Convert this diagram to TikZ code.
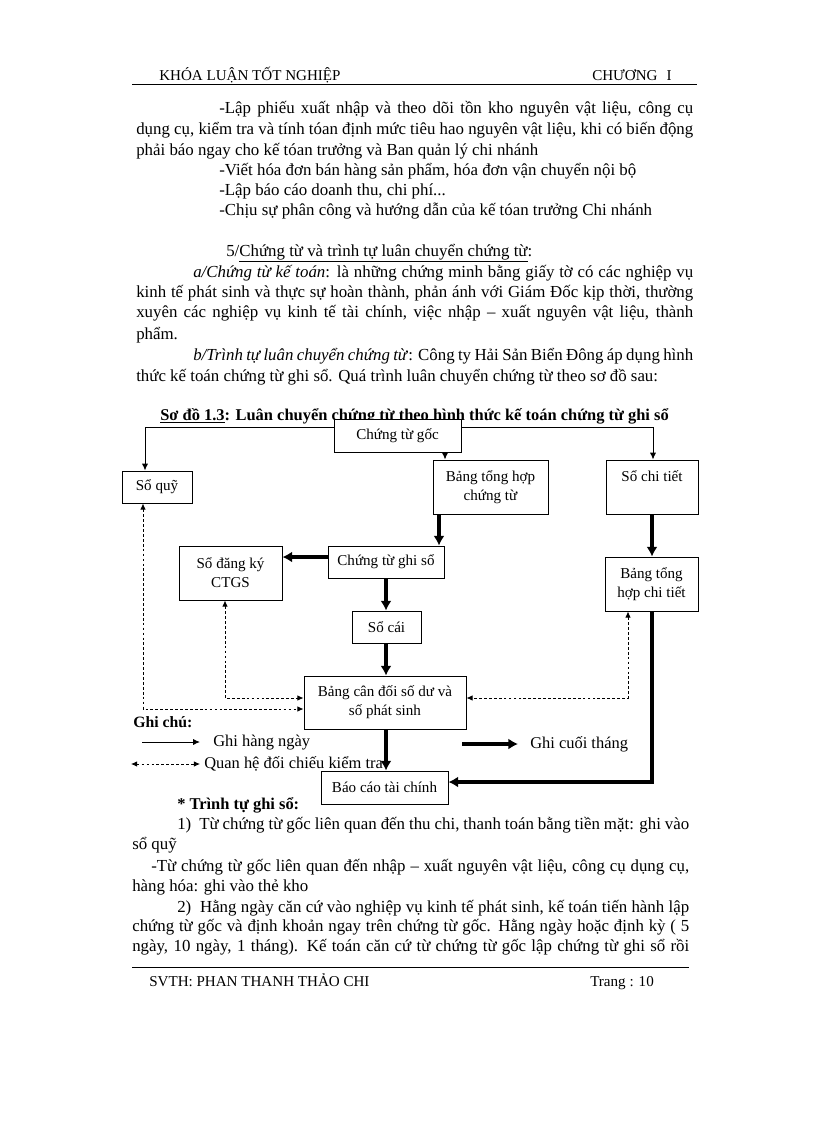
\documentclass[tikz,border=0pt]{standalone}
\usepackage{fontspec}
\setmainfont{Liberation Serif}
\usetikzlibrary{arrows.meta}
\newdimen\pxu \pxu=0.7297pt
% justified line: name, x1, baseline y, x2, text
\newcommand\jl[5]{\node[txt,anchor=base west] (#1) at (#2,#3) {\makebox[\dimexpr #4\pxu-#2\pxu\relax][s]{#5}};}
% plain line: name, x, baseline y, text
\newcommand\tl[4]{\node[txt,anchor=base west] (#1) at (#2,#3) {#4};}
\tikzset{
  txt/.style={inner sep=0pt, font=\fontsize{12.3}{15}\selectfont},
  box/.style={draw, fill=white, line width=0.7pt, inner sep=1pt, align=center,
              font=\fontsize{11}{14}\selectfont},
  thinarr/.style={line width=0.7pt, -{Latex[length=5pt,width=4.5pt]}},
  thickarr/.style={line width=2.8pt, -{Latex[length=7pt,width=8pt]}},
  dasharr/.style={line width=0.6pt, dash pattern=on 2pt off 1.6pt,
              {Latex[length=4.5pt,width=4pt]}-{Latex[length=4.5pt,width=4pt]}},
}
\begin{document}
\begin{tikzpicture}[x={(\pxu,0)}, y={(0,-\pxu)}]
\useasboundingbox[fill=white] (0,0) rectangle (816,1123);

% header
\tl{h1}{159}{80}{\fontsize{11}{13}\selectfont KHÓA LUẬN TỐT NGHIỆP}
\tl{h2}{592}{80}{\fontsize{11}{13}\selectfont CHƯƠNG\hspace{0.6em}I}
\draw[line width=0.6pt] (132,84) -- (697,84);

% first block
\jl{l1}{219}{113}{693}{-Lập phiếu xuất nhập và theo dõi tồn kho nguyên vật liệu, công cụ}
\jl{l2}{136}{134}{693}{dụng cụ, kiểm tra và tính tóan định mức tiêu hao nguyên vật liệu, khi có biến động}
\tl{l3}{136}{155}{phải báo ngay cho kế tóan trưởng và Ban quản lý chi nhánh}
\tl{l4}{219}{175}{-Viết hóa đơn bán hàng sản phẩm, hóa đơn vận chuyển nội bộ}
\tl{l5}{219}{195}{-Lập báo cáo doanh thu, chi phí...}
\tl{l6}{219}{215}{-Chịu sự phân công và hướng dẫn của kế tóan trưởng Chi nhánh}

% section 5
\tl{s1}{226}{256}{5/\underline{Chứng từ và trình tự luân chuyển chứng từ}:}
\jl{s2}{193}{277}{693}{\textit{a/Chứng từ kế toán}: là những chứng minh bằng giấy tờ có các nghiệp vụ}
\jl{s3}{136}{297}{693}{kinh tế phát sinh và thực sự hoàn thành, phản ánh với Giám Đốc kịp thời, thường}
\jl{s4}{136}{317}{693}{xuyên các nghiệp vụ kinh tế tài chính, việc nhập – xuất nguyên vật liệu, thành}
\tl{s5}{136}{339}{phẩm.}
\jl{s6}{193}{360}{693}{\textit{b/Trình tự luân chuyển chứng từ}: Công ty Hải Sản Biển Đông áp dụng hình}
\tl{s7}{136}{381}{thức kế toán chứng từ ghi sổ. Quá trình luân chuyển chứng từ theo sơ đồ sau:}

% diagram title
\tl{title}{160}{420}{\fontsize{12}{14}\selectfont\bfseries\underline{Sơ đồ 1.3}: Luân chuyển chứng từ theo hình thức kế toán chứng từ ghi sổ}

% boxes
\node[box, minimum width=127*\pxu, minimum height=33*\pxu] (g) at (397.5,435.5) {Chứng từ gốc};
\node[box, minimum width=70*\pxu, minimum height=32*\pxu] (sq) at (157,487) {Sổ quỹ};
\node[box, minimum width=115*\pxu, minimum height=54*\pxu] (bthct) at (490.5,487) {Bảng tổng hợp\\chứng từ};
\node[box, minimum width=92*\pxu, minimum height=54*\pxu, text depth=22*\pxu] (sct) at (652,487) {Sổ chi tiết};
\node[box, minimum width=103*\pxu, minimum height=54*\pxu] (sdk) at (230.5,573) {Sổ đăng ký\\CTGS};
\node[box, minimum width=116*\pxu, minimum height=32*\pxu] (ctgs) at (386,562) {Chứng từ ghi sổ};
\node[box, minimum width=69*\pxu, minimum height=32*\pxu] (sc) at (386.5,627) {Sổ cái};
\node[box, minimum width=93*\pxu, minimum height=54*\pxu] (bthcti) at (651.5,584) {Bảng tổng\\hợp chi tiết};
\node[box, minimum width=162*\pxu, minimum height=53*\pxu] (bcd) at (385,702.5) {Bảng cân đối số dư và\\số phát sinh};
\node[box, minimum width=127*\pxu, minimum height=33*\pxu] (bctc) at (384.5,787.5) {Báo cáo tài chính};

% helper coordinates
\coordinate (c1) at (145,427);
\coordinate (c2) at (653,427);
\coordinate (c3) at (445,0);
\coordinate (c4) at (439,0);
\coordinate (c6) at (0,557);
\coordinate (c10) at (0,782);
\coordinate (d1) at (143,709);
\coordinate (d2) at (225,698);
\coordinate (d3) at (628,698);

% thin connectors
\draw[thinarr] (g.west |- c1) -- (c1) -- (sq.north -| c1);
\draw[thinarr] (g.east |- c2) -- (c2) -- (sct.north -| c2);
\draw[thinarr] (g.south -| c3) -- (bthct.north -| c3);

% thick connectors
\draw[thickarr] (bthct.south -| c4) -- (ctgs.north -| c4);
\draw[thickarr] (sct.south) -- (bthcti.north -| sct.south);
\draw[thickarr] (ctgs.west |- c6) -- (sdk.east |- c6);
\draw[thickarr] (ctgs.south) -- (sc.north -| ctgs.south);
\draw[thickarr] (sc.south -| ctgs.south) -- (bcd.north -| ctgs.south);
\draw[thickarr, line join=miter] (bthcti.south -| sct.south) -- (sct.south |- c10) -- (bctc.east |- c10);

% dashed connectors
\draw[dasharr] (sq.south -| d1) -- (d1) -- (bcd.west |- d1);
\draw[dasharr] (sdk.south -| d2) -- (d2) -- (bcd.west |- d2);
\draw[dasharr] (bthcti.south -| d3) -- (d3) -- (bcd.east |- d3);

% legend
\tl{gc}{133}{727}{\fontsize{11.5}{14}\selectfont\bfseries Ghi chú:}
\coordinate (la1) at (142,742); \coordinate (la2) at (200,742);
\draw[thinarr] (la1) -- (la2);
\tl{lg1}{213}{746}{\fontsize{12}{14}\selectfont Ghi hàng ngày}
\coordinate (lb1) at (131,764); \coordinate (lb2) at (200,764);
\draw[dasharr] (lb1) -- (lb2);
\tl{lg2}{204}{768}{\fontsize{12}{14}\selectfont Quan hệ đối chiếu kiểm tra}
\coordinate (lc1) at (462,744); \coordinate (lc2) at (518,744);
\draw[thickarr] (lc1) -- (lc2);
\tl{lg3}{530}{748}{\fontsize{12}{14}\selectfont Ghi cuối tháng}

% thick arrow over legend text
\draw[thickarr] (bcd.south -| ctgs.south) -- (bctc.north -| ctgs.south);

% bottom text
\tl{b1}{177}{809}{\fontsize{12}{14}\selectfont\bfseries * Trình tự ghi sổ:}
\jl{b2}{177}{829}{689}{1)\ \ Từ chứng từ gốc liên quan đến thu chi, thanh toán bằng tiền mặt: ghi vào}
\tl{b3}{132}{849}{sổ quỹ}
\jl{b4}{151}{871}{689}{-Từ chứng từ gốc liên quan đến nhập – xuất nguyên vật liệu, công cụ dụng cụ,}
\tl{b5}{132}{891}{hàng hóa: ghi vào thẻ kho}
\jl{b6}{177}{912}{689}{2)\ \ Hằng ngày căn cứ vào nghiệp vụ kinh tế phát sinh, kế toán tiến hành lập}
\jl{b7}{132}{931}{689}{chứng từ gốc và định khoản ngay trên chứng từ gốc. Hằng ngày hoặc định kỳ ( 5}
\jl{b8}{132}{951}{689}{ngày, 10 ngày, 1 tháng). Kế toán căn cứ từ chứng từ gốc lập chứng từ ghi sổ rồi}

% footer
\draw[line width=0.6pt] (132,967) -- (689,967);
\tl{f1}{149}{986}{\fontsize{11}{13}\selectfont SVTH: PHAN THANH THẢO CHI}
\tl{f2}{590}{986}{\fontsize{11}{13}\selectfont Trang : 10}
\end{tikzpicture}
\end{document}
